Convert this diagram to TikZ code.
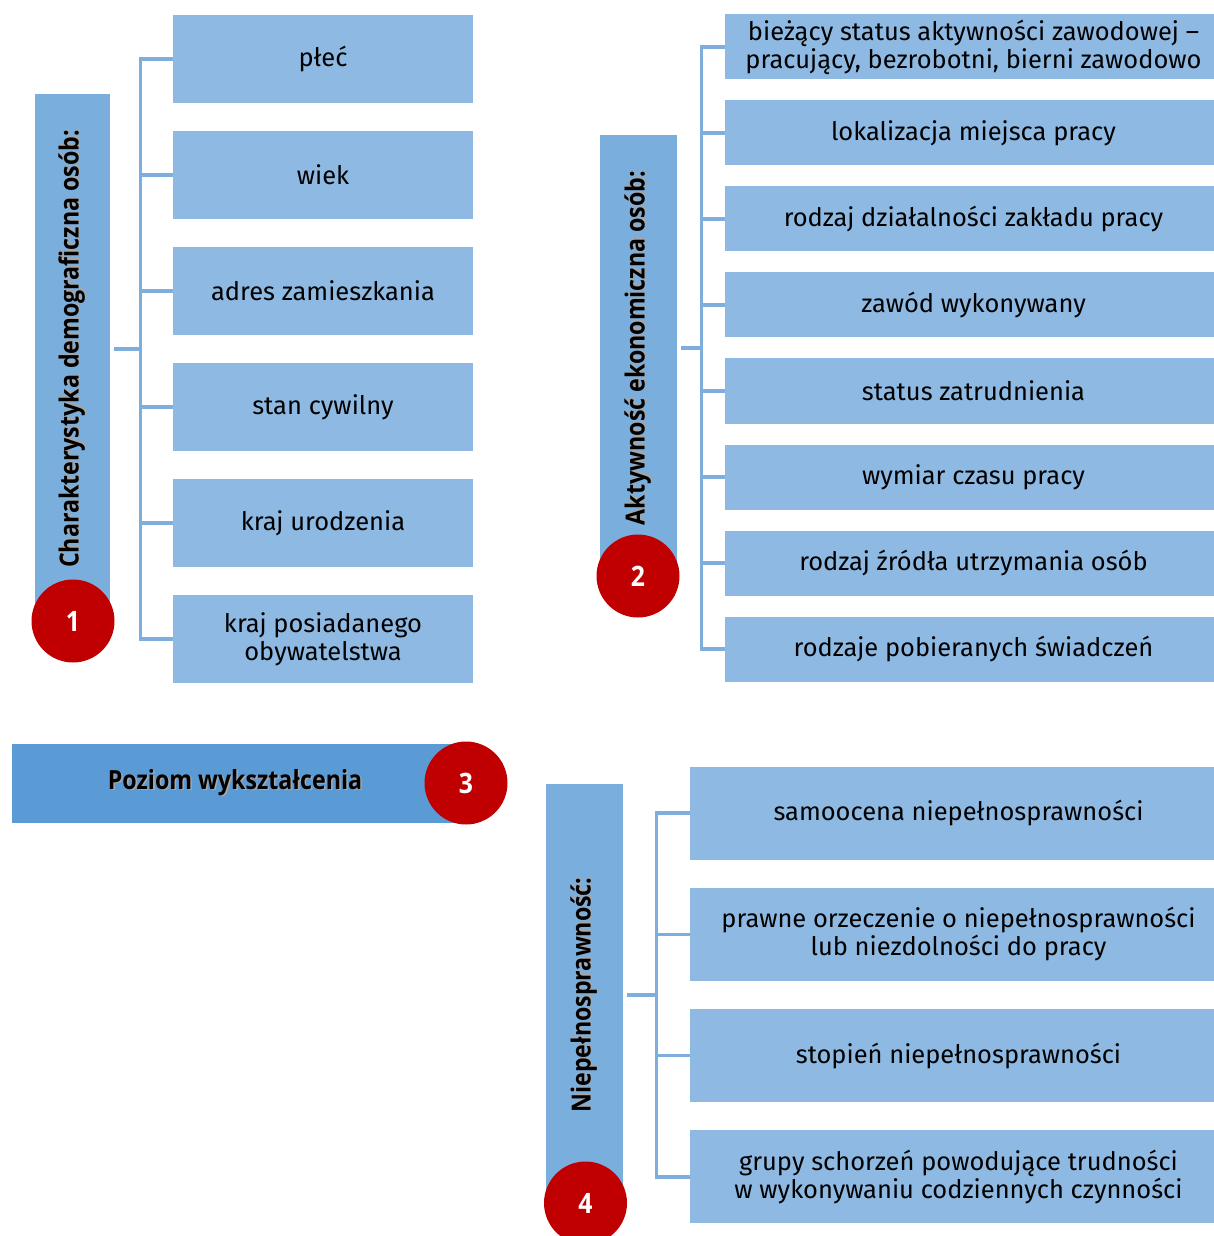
\documentclass[tikz,border=0pt]{standalone}
\usepackage{fontspec}
\setmainfont{Fira Sans}
\newfontfamily\headfont[FakeStretch=0.88]{Open Sans}
\usepackage{tikz}
\usetikzlibrary{calc}
\definecolor{boxblue}{HTML}{8DB9E2}
\definecolor{headblue}{HTML}{7AAEDD}
\definecolor{edublue}{HTML}{5B9BD5}
\definecolor{lineblue}{HTML}{7EAEDD}
\definecolor{dotred}{HTML}{C00000}
\newcommand{\unitpx}{0.02cm}
\newcommand{\shadowed}[1]{\makebox[0pt][l]{\hspace{0.9pt}\raisebox{-0.9pt}{\textcolor{black!35}{#1}}}#1}

\begin{document}
\begin{tikzpicture}[x=0.02cm, y=-0.02cm,
  item/.style={fill=boxblue, inner sep=0pt, align=center, font=\fontsize{14.5}{16}\selectfont},
  headbar/.style={fill=headblue, rotate=90, inner sep=0pt, minimum height=75*\unitpx, font=\headfont\bfseries\fontsize{15}{17}\selectfont},
  numdot/.style={circle, fill=dotred, text=white, inner sep=0pt, minimum size=83*\unitpx, font=\headfont\bfseries\fontsize{16}{18}\selectfont},
  conn/.style={draw=lineblue, line width=1.9pt}]
\useasboundingbox (0,0) rectangle (1213,1236);

% 1 - demografia
\node[headbar, minimum width=510*\unitpx] (h1) at (72.5,349) {\shadowed{Charakterystyka demograficzna osób:}};
\foreach \t [count=\i] in {płeć, wiek, adres zamieszkania, stan cywilny, kraj urodzenia, {kraj posiadanego\\obywatelstwa}}
  {\node[item, minimum width=300*\unitpx, minimum height=88*\unitpx] (d\i) at (323,{59+(\i-1)*116}) {\t};}
\coordinate (t1) at ($(d1.west)+(-32,0)$);
\draw[conn] (d1.west) -- (t1) |- (d6.west);
\foreach \i in {2,...,5} {\draw[conn] (d\i.west) -- ++(-32,0);}
\draw[conn] ($(h1.south)+(4,0)$) -- (h1.south -| t1);
\node[numdot] (n1) at (73,621) {1};

% 2 - aktywnosc ekonomiczna
\node[headbar, minimum width=426*\unitpx, minimum height=77*\unitpx] (h2) at (638.5,348) {\shadowed{Aktywność ekonomiczna osób:}};
\foreach \t [count=\i] in {{bieżący status aktywności zawodowej --\\pracujący, bezrobotni, bierni zawodowo}, lokalizacja miejsca pracy, rodzaj działalności zakładu pracy, zawód wykonywany, status zatrudnienia, wymiar czasu pracy, rodzaj źródła utrzymania osób, rodzaje pobieranych świadczeń}
  {\node[item, minimum width=497*\unitpx, minimum height=65*\unitpx] (a\i) at (973.5,{47+(\i-1)*86}) {\t};}
\coordinate (t2) at ($(a1.west)+(-23,0)$);
\draw[conn] (a1.west) -- (t2) |- (a8.west);
\foreach \i in {2,...,7} {\draw[conn] (a\i.west) -- ++(-23,0);}
\draw[conn] ($(h2.south)+(4,0)$) -- (h2.south -| t2);
\node[numdot] (n2) at (638,576) {2};

% 3 - wyksztalcenie
\node[fill=edublue, inner sep=0pt, minimum width=446*\unitpx, minimum height=79*\unitpx, font=\headfont\bfseries\fontsize{15}{17}\selectfont] (h3) at (235,783) {\shadowed{Poziom wykształcenia}};
\node[numdot] (n3) at (466,783) {3};

% 4 - niepelnosprawnosc
\node[headbar, minimum width=422*\unitpx, minimum height=77*\unitpx] (h4) at (584.5,995) {\shadowed{Niepełnosprawność:}};
\foreach \t [count=\i] in {samoocena niepełnosprawności, {prawne orzeczenie o niepełnosprawności\\lub niezdolności do pracy}, stopień niepełnosprawności, {grupy schorzeń powodujące trudności\\w wykonywaniu codziennych czynności}}
  {\node[item, minimum width=537*\unitpx, minimum height=93*\unitpx] (p\i) at (958.5,{813+(\i-1)*121.3}) {\t};}
\coordinate (t4) at ($(p1.west)+(-33,0)$);
\draw[conn] (p1.west) -- (t4) |- (p4.west);
\foreach \i in {2,3} {\draw[conn] (p\i.west) -- ++(-33,0);}
\draw[conn] ($(h4.south)+(4,0)$) -- (h4.south -| t4);
\node[numdot] (n4) at (585.5,1203) {4};

\end{tikzpicture}
\end{document}
